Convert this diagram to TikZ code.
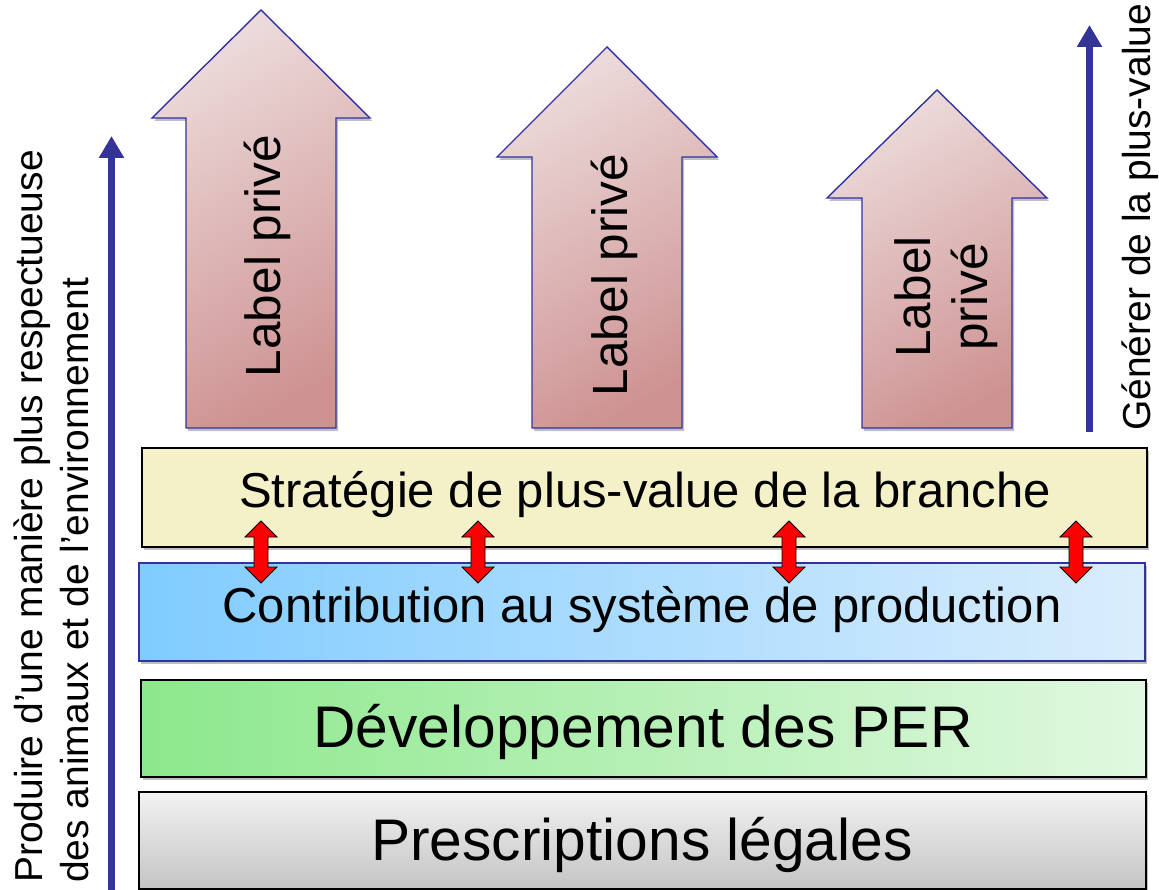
\documentclass[tikz,border=0pt]{standalone}
\usepackage{fontspec}
\setmainfont{Liberation Sans}
\usetikzlibrary{arrows.meta,shadows}
\definecolor{axisblue}{RGB}{52,52,150}
\definecolor{edgeblue}{RGB}{50,50,160}
\definecolor{lblTop}{RGB}{236,218,218}
\definecolor{lblBot}{RGB}{206,146,146}
\definecolor{yelFill}{RGB}{244,241,200}
\definecolor{bluL}{RGB}{128,204,255}
\definecolor{bluR}{RGB}{218,237,252}
\definecolor{grnL}{RGB}{140,232,140}
\definecolor{grnR}{RGB}{224,248,224}
\definecolor{gryT}{RGB}{242,242,242}
\definecolor{gryB}{RGB}{196,196,196}
\begin{document}
\begin{tikzpicture}[x=1pt,y=-1pt,
  shad/.style={drop shadow={shadow xshift=2pt,shadow yshift=-3pt,opacity=0.25,fill=black}},
  bar/.style={line width=1.5pt,shad},
  lblarrow/.style={draw=edgeblue,line width=1.4pt,top color=lblTop,bottom color=lblBot,shading angle=30,shad},
  dbl/.style={fill=red,draw=black,line width=0.8pt},
  axisarrow/.style={draw=axisblue,line width=7pt,-{Triangle[width=24pt,length=22pt]}},
  bigtext/.style={font=\fontsize{49}{57}\selectfont,inner sep=0pt},
  hugetext/.style={font=\fontsize{58.7}{68}\selectfont,inner sep=0pt},
  sidetext/.style={font=\fontsize{39}{46}\selectfont,inner sep=0pt,rotate=90,anchor=base west},
  lbltext/.style={font=\fontsize{49.5}{57}\selectfont,inner sep=0pt,rotate=90,anchor=base}
]
\useasboundingbox (0,0) rectangle (1159,890);

% bars
\draw[bar,draw=black,fill=yelFill] (142,448) rectangle (1147,547);
\draw[bar,draw=edgeblue,left color=bluL,right color=bluR] (139,563) rectangle (1145,661);
\draw[bar,draw=black,left color=grnL,right color=grnR] (141,680) rectangle (1146,777);
\draw[bar,draw=black,top color=gryT,bottom color=gryB] (139,792) rectangle (1146,889);

\node[bigtext,anchor=base] (strat) at (645,507) {Stratégie de plus-value de la branche};
\node[bigtext,anchor=base] (contrib) at (642,622) {Contribution au système de production};
\node[hugetext,anchor=base] (per) at (643,747) {Développement des PER};
\node[hugetext,anchor=base] (legal) at (642,860) {Prescriptions légales};

% red double arrows
\foreach \c/\n in {261/d1,478/d2,789/d3,1076/d4}{
  \draw[dbl] (\c-7,537) -- (\c-16,537) -- (\c,521) -- (\c+16,537) -- (\c+7,537)
    -- (\c+7,567) -- (\c+16,567) -- (\c,583) -- (\c-16,567) -- (\c-7,567) -- cycle;
}

% label arrows
\draw[lblarrow] (186,428) -- (186,118) -- (152,118) -- (261,10) -- (370,118) -- (336,118) -- (336,428) -- cycle;
\draw[lblarrow] (532,428) -- (532,157) -- (497,157) -- (607,47) -- (717,157) -- (682,157) -- (682,428) -- cycle;
\draw[lblarrow] (862,428) -- (862,198) -- (827,198) -- (937,90) -- (1047,198) -- (1012,198) -- (1012,428) -- cycle;

\node[lbltext] (lab1) at (280,256) {Label privé};
\node[lbltext] (lab2) at (627,275) {Label privé};
\node[lbltext] (lab3a) at (930,297) {Label};
\node[lbltext] (lab3b) at (987,297) {privé};

% axis arrows
\coordinate (la0) at (111.5,890);
\coordinate (la1) at (111.5,136);
\draw[axisarrow] (la0) -- (la1);
\coordinate (ra0) at (1089.5,432);
\coordinate (ra1) at (1089.5,25);
\draw[axisarrow] (ra0) -- (ra1);

\node[sidetext] (left1) at (42,883) {Produire d’une manière plus respectueuse};
\node[sidetext] (left2) at (88,883) {des animaux et de l’environnement};
\node[sidetext] (right1) at (1150,431) {Générer de la plus-value};
\end{tikzpicture}
\end{document}
